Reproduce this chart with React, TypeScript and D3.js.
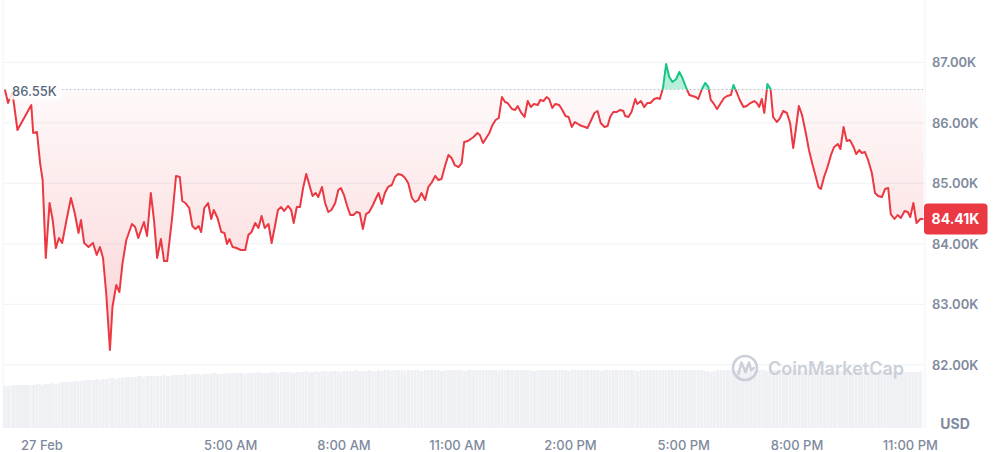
import React from 'react';
import * as d3 from 'd3';

const W = 997;
const H = 452;

// minutes from 00:00 on 27 Feb
const times = [
  -59,-54,-48,-46,-39,-17,-14,-8,-3,1,
  6,12,17,22,27,32,39,46,52,58,
  62,67,74,81,87,92,97,102,108,112,
  118,123,128,134,143,148,153,162,167,173,
  178,183,189,194,199,207,213,219,223,228,
  234,239,244,249,253,258,264,269,273,279,
  285,290,294,298,303,309,316,323,328,333,
  339,344,349,354,360,365,370,375,380,385,
  391,396,400,405,410,415,420,425,430,435,
  439,445,450,455,460,466,471,475,480,485,
  490,495,500,505,510,515,520,526,531,535,
  540,545,550,556,561,566,572,577,582,588,
  593,598,603,609,614,619,625,630,635,641,
  646,651,656,662,667,671,677,686,692,696,
  701,706,711,716,721,726,731,736,740,747,
  752,756,761,767,772,777,782,788,792,797,
  802,806,811,816,822,827,832,837,842,847,
  852,858,863,867,873,878,883,888,894,899,
  903,908,913,919,924,927,932,937,943,946,
  952,957,962,967,973,978,982,987,992,997,
  1002,1008,1013,1018,1024,1029,1034,1039,1043,1049,
  1054,1059,1063,1068,1073,1079,1084,1089,1095,1099,
  1104,1109,1115,1120,1126,1132,1136,1140,1144,1148,
  1153,1158,1162,1168,1173,1178,1184,1189,1194,1198,
  1203,1208,1214,1219,1224,1230,1234,1238,1243,1249,
  1254,1259,1265,1269,1274,1279,1284,1290,1294,1299,
  1303,1308,1313,1319,1324,1329,1335,1340,1345,1349,
  1355,1360,1365,1371,1376,1380,1385,1390,1396,1401,
];

const prices = [
  86550,86327,86493,86426,85881,86294,85831,85848,85335,85054,
  83765,84674,84393,83930,84096,84013,84393,84757,84509,84178,
  84393,84013,83947,84013,83815,83947,83765,83187,82244,82955,
  83319,83203,83682,84063,84327,84277,84096,84360,84129,84839,
  84393,83765,84079,83715,83715,84443,85121,85104,84707,84674,
  84592,84294,84244,84294,84195,84592,84674,84410,84559,84426,
  84195,84178,83996,84079,83947,83930,83897,83897,84145,84195,
  84344,84261,84459,84261,84327,84013,84277,84559,84608,84542,
  84625,84559,84344,84608,84608,84922,85154,84972,84790,84839,
  84773,84939,84674,84525,84559,84674,84889,84922,84806,84625,
  84476,84476,84525,84509,84244,84492,84525,84641,84757,84839,
  84658,84839,84939,84972,85104,85154,85137,85087,85005,84757,
  84691,84724,84839,84724,84939,85005,85121,85054,85071,85302,
  85468,85418,85302,85269,85335,85683,85699,85765,85831,85798,
  85666,85749,85831,85964,86046,86079,86426,86344,86327,86228,
  86212,86278,86178,86096,86360,86261,86311,86294,86377,86360,
  86426,86393,86245,86311,86294,86212,86112,86096,85930,86013,
  85980,85947,85930,85914,86046,86162,86195,85997,85930,85947,
  86096,86178,86178,86212,86195,86112,86096,86178,86393,86311,
  86360,86261,86327,86327,86393,86410,86393,86575,86972,86757,
  86674,86724,86840,86740,86575,86459,86443,86426,86393,86559,
  86658,86592,86377,86311,86228,86327,86410,86443,86459,86625,
  86509,86377,86261,86278,86327,86360,86327,86261,86393,86162,
  86641,86559,86096,86013,86079,86195,86162,85997,85583,85881,
  86278,86129,85831,85550,85335,85104,84939,84906,85104,85286,
  85468,85600,85649,85567,85930,85699,85716,85600,85484,85550,
  85501,85517,85385,85170,84839,84790,84773,84906,84922,84492,
  84410,84476,84426,84542,84525,84443,84674,84344,84410,84410,
];

const volumes = [
  42,42,42,43,43,43,43,44,44,43,
  44,44,45,44,45,46,46,46,47,47,
  47,48,48,48,49,48,49,49,50,50,
  49,50,50,51,51,51,52,51,52,52,
  52,52,52,53,52,53,53,53,53,54,
  53,54,54,54,53,54,54,54,55,54,
  54,55,55,54,55,55,55,54,55,55,
  55,56,55,55,55,56,56,55,56,56,
  56,56,55,56,56,56,57,56,56,57,
  56,57,57,56,57,57,57,56,57,57,
  57,57,58,57,57,57,58,57,57,58,
  57,58,58,57,58,58,58,57,58,58,
  58,58,57,58,58,58,58,58,57,58,
  58,58,58,58,58,57,58,58,58,58,
  58,58,58,58,58,57,58,58,58,58,
  58,58,58,58,58,58,57,58,58,58,
  58,58,58,58,58,58,58,57,58,58,
  58,58,58,58,58,58,58,57,58,58,
  58,58,58,58,58,58,58,58,58,57,
  58,58,58,58,58,58,58,58,58,58,
  58,58,58,58,58,58,58,58,58,58,
  57,57,56,57,58,58,58,58,58,58,
  58,57,58,58,58,58,58,58,58,58,
  57,58,58,58,58,58,58,58,58,58,
  57,57,57,58,57,57,57,57,57,57,
  57,57,57,57,57,57,56,57,57,57,
  57,56,57,57,57,56,56,57,56,56,
  56,57,56,56,56,56,56,56,57,56,
];

const openPrice = 86550;
const lastPrice = 84410;
const yTicks = [82000, 83000, 84000, 85000, 86000, 87000];
const xTickTimes = [0, 300, 480, 660, 840, 1020, 1200, 1380];
const xTickLabels = ['27 Feb', '5:00 AM', '8:00 AM', '11:00 AM', '2:00 PM', '5:00 PM', '8:00 PM', '11:00 PM'];

const RED = '#ea3943';
const GREEN = '#16c784';
const GRID = '#eff2f5';
const LABEL = '#808a9d';
const FONT = 'Inter, "Noto Sans", sans-serif';

const fmtK = (v: number) => (v / 1000).toFixed(2) + 'K';

export default function App() {
  const data = times.map((t, i) => ({ t, p: prices[i], v: volumes[i] }));
  const x = d3.scaleLinear().domain([0, 1380]).range([42, 910.25]);
  const y = d3.scaleLinear().domain([82000, 87000]).range([364.8, 62.3]);
  const vy = d3.scaleLinear().domain([0, 60]).range([428, 368]);
  const plotLeft = 3;
  const plotRight = 925;
  const yBase = y(openPrice);

  const line = d3
    .line<{ t: number; p: number }>()
    .x((d) => x(d.t))
    .y((d) => y(d.p));
  const area = d3
    .area<{ t: number; p: number }>()
    .x((d) => x(d.t))
    .y0(yBase)
    .y1((d) => y(d.p));

  const minY = y(d3.min(prices) as number);
  const linePath = line(data) || '';
  const areaPath = area(data) || '';

  return (
    <svg
      width={W}
      height={H}
      style={{ position: 'absolute', left: 0, top: 0, background: '#fff', fontFamily: FONT }}
    >
      <defs>
        <clipPath id="above">
          <rect x={0} y={0} width={W} height={yBase} />
        </clipPath>
        <clipPath id="below">
          <rect x={0} y={yBase} width={W} height={H - yBase} />
        </clipPath>
        <linearGradient id="redFill" gradientUnits="userSpaceOnUse" x1={0} y1={yBase} x2={0} y2={minY}>
          <stop offset="0%" stopColor={RED} stopOpacity={0.03} />
          <stop offset="100%" stopColor={RED} stopOpacity={0.22} />
        </linearGradient>
      </defs>

      {/* volume bars */}
      <g>
        {data.map((d, i) => {
          const x0 = x(d.t);
          const x1 = i < data.length - 1 ? x(data[i + 1].t) : plotRight - 1;
          return (
            <rect
              key={i}
              x={x0 - 1.5}
              y={vy(d.v)}
              width={Math.max(0.5, x1 - x0 - 0.3)}
              height={vy(0) - vy(d.v)}
              fill="#eef0f4"
            />
          );
        })}
      </g>

      {/* gridlines */}
      {yTicks.map((t) => (
        <line key={t} x1={plotLeft} x2={plotRight} y1={y(t)} y2={y(t)} stroke={GRID} strokeWidth={1} />
      ))}
      <line x1={plotLeft} x2={plotLeft} y1={0} y2={428} stroke={GRID} strokeWidth={1} />
      <line x1={plotRight} x2={plotRight} y1={0} y2={428} stroke={GRID} strokeWidth={1} />

      {/* watermark */}
      <g opacity={0.9}>
        <circle cx={745} cy={368} r={12} fill="none" stroke="#c6cbd5" strokeWidth={2.6} />
        <path
          d="M738.5,374 L741.5,362.5 L745.5,372 L749,362.5 L751,370 L754,368"
          fill="none"
          stroke="#c6cbd5"
          strokeWidth={2.6}
          strokeLinejoin="round"
          strokeLinecap="round"
        />
        <text x={768} y={368} dominantBaseline="central" fontSize={18} fontWeight={600} fill="#c6cbd5">
          CoinMarketCap
        </text>
      </g>

      {/* area fills */}
      <path d={areaPath} fill="url(#redFill)" clipPath="url(#below)" />
      <path d={areaPath} fill={GREEN} fillOpacity={0.3} clipPath="url(#above)" />

      {/* baseline */}
      <line
        x1={62}
        x2={plotRight - 2}
        y1={yBase}
        y2={yBase}
        stroke="#a6b0c3"
        strokeWidth={1}
        strokeDasharray="1.2 2.8"
      />

      {/* price line */}
      <path d={linePath} fill="none" stroke={RED} strokeWidth={2} strokeLinejoin="round" clipPath="url(#below)" />
      <path d={linePath} fill="none" stroke={GREEN} strokeWidth={2} strokeLinejoin="round" clipPath="url(#above)" />

      {/* open price label */}
      <rect x={8} y={yBase - 10} width={54} height={20} fill="#fff" fillOpacity={0.85} rx={3} />
      <text x={12} y={yBase + 1} dominantBaseline="central" fontSize={13} fontWeight={500} fill="#58667e">
        {fmtK(openPrice)}
      </text>

      {/* y axis labels */}
      {yTicks.map((t) => (
        <text key={t} x={932} y={y(t)} dominantBaseline="central" fontSize={13} fontWeight={600} fill={LABEL}>
          {fmtK(t)}
        </text>
      ))}
      <text x={955} y={423} textAnchor="middle" dominantBaseline="central" fontSize={14} fontWeight={700} fill={LABEL}>
        USD
      </text>

      {/* last price tag */}
      <rect x={924} y={y(lastPrice) - 15.5} width={63.5} height={31} rx={4} fill={RED} />
      <text
        x={955.5}
        y={y(lastPrice)}
        textAnchor="middle"
        dominantBaseline="central"
        fontSize={14}
        fontWeight={700}
        fill="#fff"
      >
        {fmtK(lastPrice)}
      </text>

      {/* x axis labels */}
      {xTickTimes.map((t, i) => (
        <text key={t} x={x(t)} y={445} textAnchor="middle" dominantBaseline="central" fontSize={13} fontWeight={500} fill={LABEL}>
          {xTickLabels[i]}
        </text>
      ))}
    </svg>
  );
}
